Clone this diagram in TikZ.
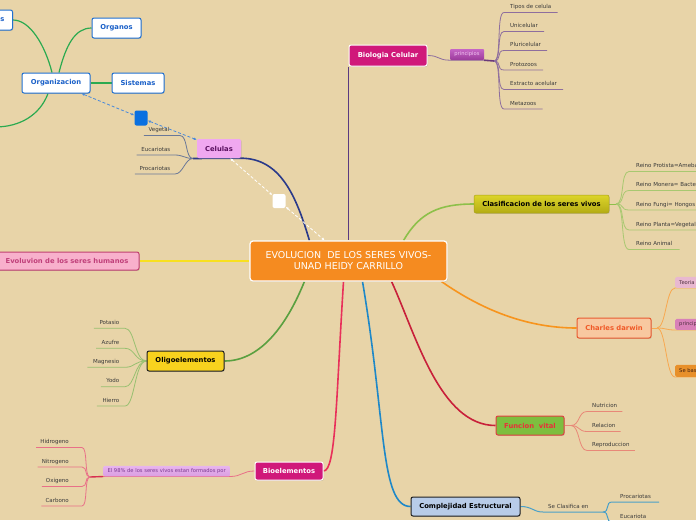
\documentclass[tikz,border=0pt]{standalone}
\usepackage{fontspec}
\setmainfont{DejaVu Sans}
\usetikzlibrary{shadows,arrows.meta}
\pgfdeclarelayer{bg}
\pgfsetlayers{bg,main}
\newcommand{\myfs}[1]{\fontsize{#1}{#1}\selectfont}
\definecolor{bgc}{HTML}{E8D4A8}
\definecolor{centralc}{HTML}{F58B20}
\definecolor{magc}{HTML}{D0187A}
\definecolor{leaftxt}{HTML}{3A3A3A}
\definecolor{purpl}{HTML}{5A3A80}
\definecolor{bioleafc}{HTML}{8E6E9E}
\definecolor{clasl}{HTML}{8DC04A}
\definecolor{clasleaf}{HTML}{A8C870}
\definecolor{orl}{HTML}{F7941D}
\definecolor{orleaf}{HTML}{F8A850}
\definecolor{redl}{HTML}{C8203A}
\definecolor{redleaf}{HTML}{E88878}
\definecolor{bluel}{HTML}{1E88C8}
\definecolor{blueleaf}{HTML}{4AA0C8}
\definecolor{pinkl}{HTML}{E8305A}
\definecolor{pinkleaf}{HTML}{E87088}
\definecolor{greenl}{HTML}{5AA040}
\definecolor{greenleaf}{HTML}{98C070}
\definecolor{navyl}{HTML}{2A3A8A}
\definecolor{celleaf}{HTML}{6A7898}
\definecolor{yell}{HTML}{F8E020}
\definecolor{orgl}{HTML}{2BAA50}
\definecolor{orgb}{HTML}{2070D0}
\definecolor{orgt}{HTML}{1A60C8}
\definecolor{dashb}{HTML}{4A8ADA}
\definecolor{princtop}{HTML}{C565C5}
\definecolor{princbot}{HTML}{9A3A9A}
\definecolor{princtxt}{HTML}{F4C8F4}
\definecolor{clastop}{HTML}{DCD42A}
\definecolor{clasbot}{HTML}{B4AC14}
\definecolor{clasdraw}{HTML}{A8A018}
\definecolor{darwfill}{HTML}{F8C8A0}
\definecolor{darwdraw}{HTML}{E85A30}
\definecolor{darwtxt}{HTML}{F05A28}
\definecolor{teofill}{HTML}{E8B8D0}
\definecolor{subtxt}{HTML}{503040}
\definecolor{prbfill}{HTML}{D880B8}
\definecolor{sebfill}{HTML}{E8902A}
\definecolor{sebtxt}{HTML}{402010}
\definecolor{funfill}{HTML}{7DBE3F}
\definecolor{fundraw}{HTML}{E04040}
\definecolor{funtxt}{HTML}{E8303A}
\definecolor{comfill}{HTML}{B8CCE8}
\definecolor{darkb}{HTML}{202020}
\definecolor{eltop}{HTML}{E8B4EE}
\definecolor{elbot}{HTML}{DA9EE2}
\definecolor{eltxt}{HTML}{7A3A90}
\definecolor{oligfill}{HTML}{F8D21E}
\definecolor{evfill}{HTML}{F8B0CC}
\definecolor{evdraw}{HTML}{C04070}
\definecolor{evtxt}{HTML}{C0407A}
\definecolor{celfill}{HTML}{F0A8F0}
\definecolor{celtxt}{HTML}{5A1060}
\definecolor{bsqc}{HTML}{0A70E0}
\definecolor{princbar}{HTML}{6A3A7A}
\definecolor{elbar}{HTML}{D83050}
\begin{document}
\begin{tikzpicture}[x=1pt,y=-1pt,
  box/.style={rounded corners=2pt, inner sep=0pt, align=center, font=\myfs{6.8}\bfseries,
    drop shadow={shadow xshift=0.7pt,shadow yshift=-0.9pt,opacity=0.3}},
  orgbox/.style={box, fill=white, draw=orgb, line width=1pt, text=orgt, minimum height=20pt},
  leaf/.style={font=\myfs{5.5}, text=leaftxt, inner ysep=2.5pt, text height=4.1pt, text depth=1.2pt},
  subbox/.style={rounded corners=1.5pt, inner xsep=4pt, inner ysep=0pt, font=\myfs{5.2}, anchor=south west},
  mainline/.style={line width=1.6pt},
  leafline/.style={line width=0.8pt},
  dsh/.style={line width=0.8pt, dash pattern=on 3pt off 2pt, {Latex[length=3pt,width=2.6pt]}-{Latex[length=3pt,width=2.6pt]}}
]
\useasboundingbox (0,0) rectangle (696,520);
\begin{pgfonlayer}{bg}
\fill[bgc] (0,0) rectangle (696,520);
\end{pgfonlayer}
\clip (0,0) rectangle (696,520);

% ---------- main nodes ----------
\node[box, fill=centralc, draw=white, line width=1.2pt, rounded corners=3pt, minimum width=197pt, minimum height=40pt, text=white, font=\fontsize{9.5}{11}\selectfont] (central) at (348.5,261) {EVOLUCION\ \ DE LOS SERES VIVOS-\\UNAD HEIDY CARRILLO};

\node[box, fill=magc, draw=white, line width=1pt, minimum width=78pt, minimum height=21pt, text=white] (bio) at (388,55.5) {Biologia Celular};
\node[rounded corners=1pt, inner sep=0pt, minimum width=34pt, minimum height=11pt, top color=princtop, bottom color=princbot, text=princtxt, font=\myfs{5.2}] (princ) at (467,54.5) {principios};

\node[box, top color=clastop, bottom color=clasbot, draw=clasdraw, line width=0.5pt, minimum width=135pt, minimum height=18pt, text=black] (clasif) at (541.5,204) {Clasificacion de los seres vivos};

\node[box, fill=darwfill, draw=darwdraw, line width=1pt, minimum width=74pt, minimum height=20pt, text=darwtxt] (darwin) at (614,328) {Charles darwin};
\node[subbox, fill=teofill, text=subtxt, minimum height=11pt] (teoria) at (675,288) {Teoria de la};
\node[subbox, fill=prbfill, text=subtxt, minimum height=11pt] (princb) at (675,330) {principios};
\node[subbox, fill=sebfill, text=sebtxt, minimum height=12pt] (seba) at (675,377) {Se basa en};

\node[box, fill=funfill, draw=fundraw, line width=1pt, minimum width=68pt, minimum height=19pt, text=funtxt] (funcion) at (530,425.5) {Funcion\ \ vital};

\node[box, fill=comfill, draw=darkb, line width=1pt, minimum width=109pt, minimum height=19pt, text=black] (complej) at (465.5,506.5) {Complejidad Estructural};

\node[box, fill=magc, draw=white, line width=1pt, minimum width=68pt, minimum height=18pt, text=white] (bioelem) at (289,471) {Bioelementos};
\node[rounded corners=1pt, inner xsep=4pt, inner ysep=0pt, minimum height=10.5pt, top color=eltop, bottom color=elbot, text=eltxt, font=\myfs{5.2}, anchor=south east] (el98) at (230,476.5) {El 98\% de los seres vivos estan formados por};

\node[box, fill=oligfill, draw=darkb, line width=1pt, minimum width=77pt, minimum height=20pt, text=black] (oligo) at (185.5,361) {Oligoelementos};

\node[box, fill=evfill, draw=evdraw, line width=1pt, minimum width=144pt, minimum height=18pt, text=evtxt] (evol) at (67,261) {Evoluvion de los seres humanos};

\node[box, fill=celfill, minimum width=44pt, minimum height=19pt, text=celtxt] (celulas) at (219,148.5) {Celulas};

\node[orgbox, minimum width=68pt] (organiz) at (56,83) {Organizacion};
\node[orgbox, minimum width=49pt] (organos) at (116.5,28) {Organos};
\node[orgbox, minimum width=52pt] (sistemas) at (138,83) {Sistemas};
\node[orgbox, inner xsep=8pt, anchor=east] (tejidos) at (13,20) {Tejidos};
\coordinate (offl) at (-5,127);

\node[rounded corners=2pt, fill=bsqc, minimum width=13pt, minimum height=15pt, inner sep=0pt] (bsq) at (141,118) {};
\node[rounded corners=2pt, fill=white, minimum width=13pt, minimum height=14pt, inner sep=0pt] (wsq) at (279,201) {};

% ---------- main connectors ----------
\begin{pgfonlayer}{bg}
\draw[mainline, purpl] (bio.south west) -- (bio.south west |- central.north);
\draw[mainline, clasl] ([xshift=-44pt]central.north east) .. controls (420,212) and (440,204) .. (clasif.west);
\draw[mainline, orl] ([xshift=-6pt]central.south east) .. controls (485,312) and (530,328) .. (darwin.west);
\draw[mainline, redl] ([xshift=-56pt]central.south east) .. controls (416,335) and (440,425.5) .. (funcion.west);
\draw[mainline, bluel] ([xshift=14pt]central.south) .. controls (386,420) and (380,506.5) .. (complej.west);
\draw[mainline, pinkl] ([xshift=-5pt]central.south) .. controls (336,400) and (336,471) .. (bioelem.east);
\draw[mainline, greenl] ([xshift=55pt]central.south west) .. controls (288,322) and (262,361) .. (oligo.east);
\draw[mainline, yell] (evol.east) -- (central.west);
\coordinate (J8) at (193,158.5);
\draw[mainline, navyl] ([xshift=60pt]central.north west) .. controls (296,195) and (280,158.5) .. (celulas.south east) -- (J8);

% organizacion
\draw[line width=1.2pt, orgl] ([xshift=-4pt]organiz.north) .. controls (45,45) and (30,20) .. (tejidos.east);
\draw[line width=1.2pt, orgl] ([xshift=3pt]organiz.north) .. controls (66,45) and (75,28) .. (organos.west);
\draw[line width=1.2pt, orgl] (organiz.east) -- (sistemas.west);
\draw[line width=1.2pt, orgl] ([xshift=-8pt]organiz.south) .. controls (40,115) and (20,127) .. (offl);

% dashed links
\draw[dsh, dashb] (organiz) -- (bsq);
\draw[dsh, dashb] (bsq) -- (celulas);
\draw[dsh, white] (celulas) -- (wsq);
\draw[dsh, white] (wsq) -- (central);
\end{pgfonlayer}

% ---------- leaves: Biologia ----------
\coordinate (J1) at (494,61);
\begin{pgfonlayer}{bg}
\draw[leafline, bioleafc] (bio.east) .. controls +(12,0) and +(-12,0) .. (princ.south west) -- (princ.south east);
\draw[line width=1.6pt, princbar] (princ.south east) -- (J1);
\end{pgfonlayer}
\foreach \n/\t/\u in {b1/Tipos de celula/12.5, b2/Unicelular/31.5, b3/Pluricelular/50.5, b4/Protozoos/70, b5/Extracto acelular/89.5, b6/Metazoos/109}{
  \node[leaf, inner xsep=6pt, anchor=south west] (\n) at (504,\u) {\t};
  \begin{pgfonlayer}{bg}
  \draw[leafline, bioleafc] (J1) .. controls +(8,0) and +(-8,0) .. (\n.south west) -- (\n.south east);
  \end{pgfonlayer}
}

% ---------- leaves: Clasificacion ----------
\coordinate (J2) at (616,204);
\begin{pgfonlayer}{bg}
\draw[leafline, clasl] (clasif.east) -- (J2);
\end{pgfonlayer}
\foreach \n/\t/\u in {c1/Reino Protista=Amebas/171.5, c2/Reino Monera= Bacterias/190.5, c3/Reino Fungi= Hongos/210, c4/Reino Planta=Vegetales/230, c5/Reino Animal/249.5}{
  \node[leaf, inner xsep=7pt, anchor=south west] (\n) at (629,\u) {\t};
  \begin{pgfonlayer}{bg}
  \draw[leafline, clasleaf] (J2) .. controls +(9,0) and +(-9,0) .. (\n.south west) -- (\n.south east);
  \end{pgfonlayer}
}

% ---------- leaves: Darwin ----------
\coordinate (J3) at (657,328);
\begin{pgfonlayer}{bg}
\draw[leafline, orleaf] (darwin.east) -- (J3);
\foreach \n in {teoria, princb, seba}{
  \draw[leafline, orleaf] (J3) .. controls +(9,0) and +(-9,0) .. (\n.south west) -- (\n.south east);
}
\end{pgfonlayer}

% ---------- leaves: Funcion ----------
\coordinate (J4) at (571,425.5);
\begin{pgfonlayer}{bg}
\draw[leafline, redleaf] (funcion.east) -- (J4);
\end{pgfonlayer}
\foreach \n/\t/\u in {f1/Nutricion/411.5, f2/Relacion/431.5, f3/Reproduccion/450.5}{
  \node[leaf, inner xsep=5pt, anchor=south west] (\n) at (587,\u) {\t};
  \begin{pgfonlayer}{bg}
  \draw[leafline, redleaf] (J4) .. controls +(9,0) and +(-9,0) .. (\n.south west) -- (\n.south east);
  \end{pgfonlayer}
}

% ---------- leaves: Complejidad ----------
\node[leaf, inner xsep=5pt, anchor=south west] (se) at (543,512) {Se Clasifica en};
\coordinate (J5) at (603,512);
\begin{pgfonlayer}{bg}
\draw[line width=1pt, blueleaf] (complej.east) .. controls +(12,0) and +(-10,0) .. (se.south west) -- (se.south east) -- (J5);
\end{pgfonlayer}
\foreach \n/\t/\u in {k1/Procariotas/502, k2/Eucariota/522}{
  \node[leaf, inner xsep=8pt, anchor=south west] (\n) at (612,\u) {\t};
  \begin{pgfonlayer}{bg}
  \draw[line width=1pt, blueleaf] (J5) .. controls +(7,0) and +(-7,0) .. (\n.south west) -- (\n.south east);
  \end{pgfonlayer}
}

% ---------- leaves: Bioelementos ----------
\coordinate (J6) at (90,477);
\begin{pgfonlayer}{bg}
\draw[leafline, pinkleaf] (bioelem.west) .. controls +(-12,0) and +(12,0) .. (el98.south east) -- (el98.south west);
\draw[line width=1.4pt, elbar] (el98.south west) -- (J6);
\end{pgfonlayer}
\foreach \n/\t/\u in {e1/Hidrogeno/447.5, e2/Nitrogeno/467, e3/Oxigeno/486.5, e4/Carbono/506}{
  \node[leaf, inner xsep=4pt, anchor=south east] (\n) at (82,\u) {\t\hspace*{9pt}};
  \begin{pgfonlayer}{bg}
  \draw[leafline, pinkleaf] (J6) .. controls +(-6,0) and +(6,0) .. (\n.south east) -- (\n.south west);
  \end{pgfonlayer}
}

% ---------- leaves: Oligoelementos ----------
\foreach \n/\t/\u in {o1/Potasio/328.3, o2/Azufre/348.3, o3/Magnesio/367.3, o4/Yodo/386.7, o5/Hierro/406}{
  \node[leaf, inner xsep=5.5pt, anchor=south east] (\n) at (125,\u) {\t};
  \begin{pgfonlayer}{bg}
  \draw[leafline, greenleaf] (oligo.west) .. controls +(-12,0) and +(10,0) .. (\n.south east) -- (\n.south west);
  \end{pgfonlayer}
}

% ---------- leaves: Celulas ----------
\foreach \n/\t/\u/\x/\e in {v1/Vegetal/135.5/180/6pt, v2/Eucariotas/155/175/0pt, v3/Procariotas/174/175/0pt}{
  \node[leaf, inner xsep=4.5pt, anchor=south east] (\n) at (\x,\u) {\t\hspace*{\e}};
  \begin{pgfonlayer}{bg}
  \draw[leafline, celleaf] (J8) .. controls +(-8,0) and +(8,0) .. (\n.south east) -- (\n.south west);
  \end{pgfonlayer}
}
\end{tikzpicture}
\end{document}
